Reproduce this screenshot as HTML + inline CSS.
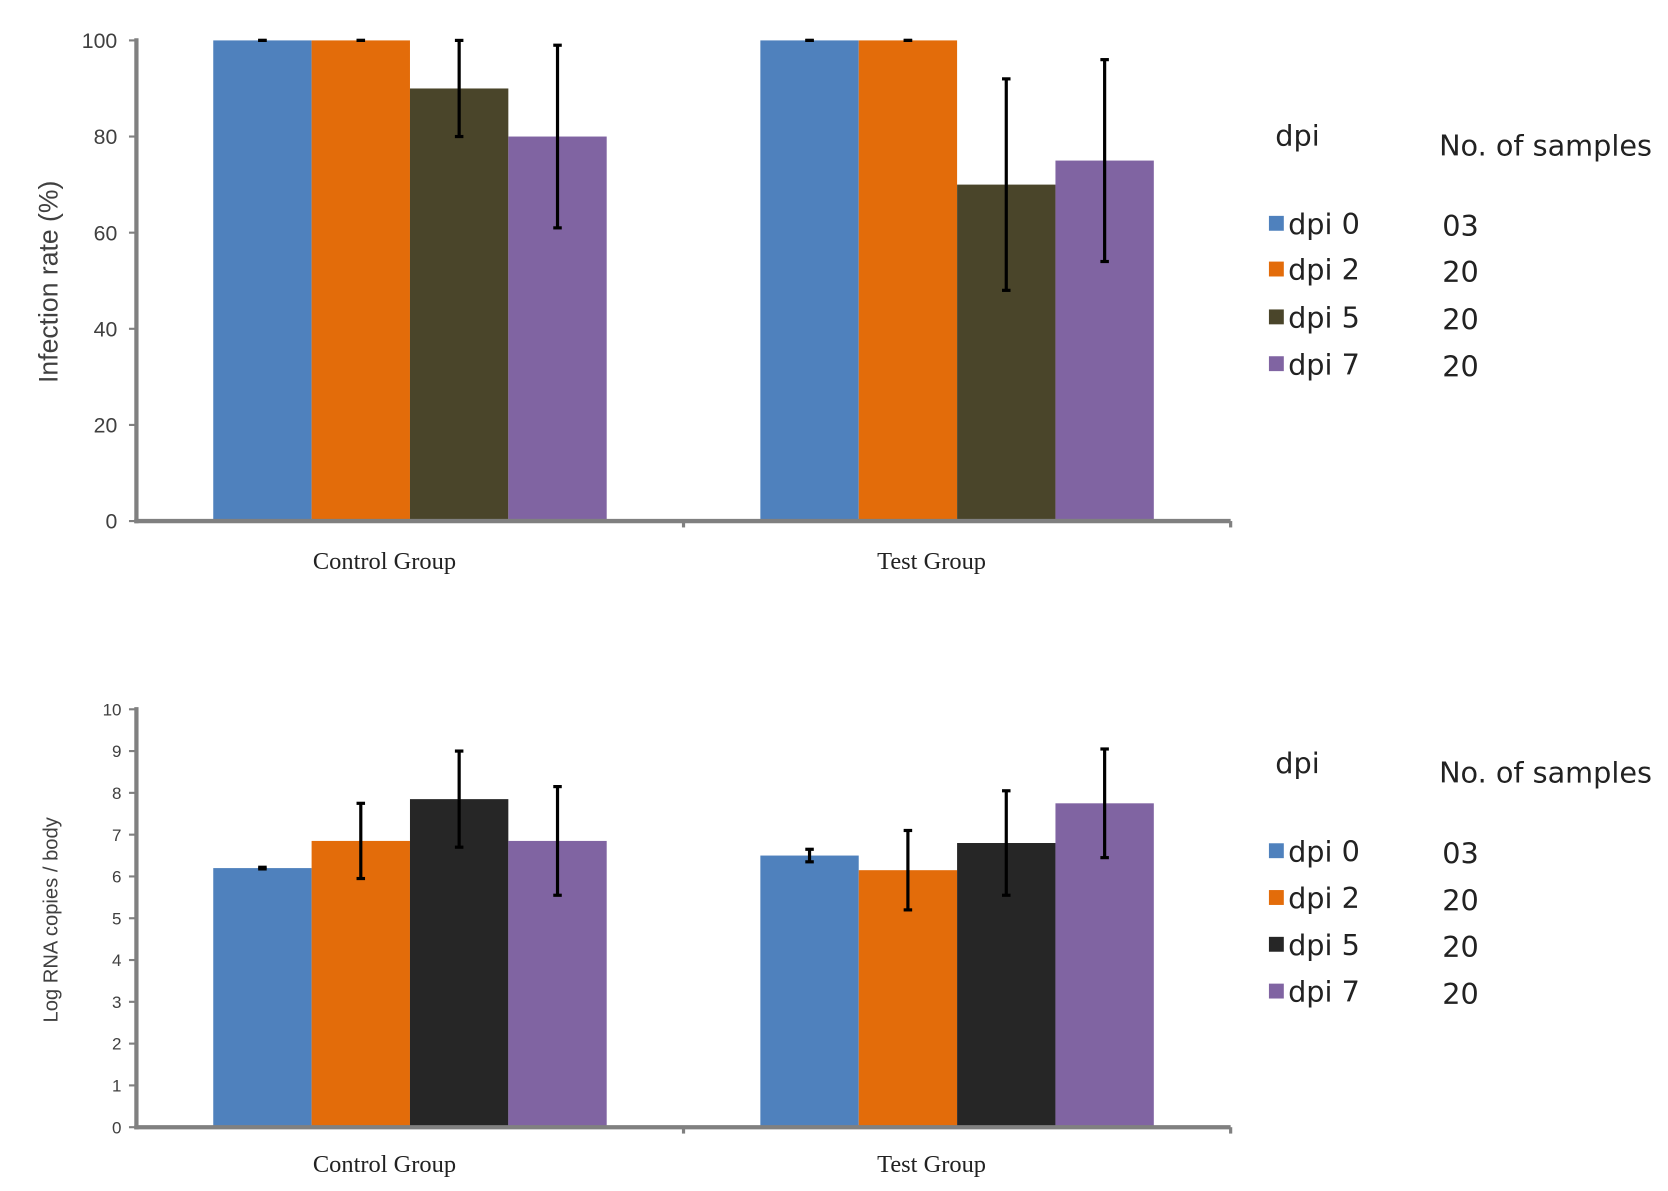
<!DOCTYPE html>
<html><head><meta charset="utf-8"><style>
html,body{margin:0;padding:0;background:#fff;}
svg{display:block;}
.tk{font-family:"Liberation Sans",sans-serif;fill:#404040;}
.cat{font-family:"Liberation Serif",serif;font-size:23px;fill:#222;}
.lg{font-family:"DejaVu Sans","Liberation Sans",sans-serif;fill:#222;}
</style></head><body>
<svg id="root" width="1668" height="1191" viewBox="0 0 1568 1120">
<g id="top"></g>
<g id="bot"></g>
</svg>
<script>
const categories = ["Control Group", "Test Group"];
const seriesNames = ["dpi 0", "dpi 2", "dpi 5", "dpi 7"];
const sampleCounts = ["03", "20", "20", "20"];
const topValues = [[100, 100, 90, 80], [100, 100, 70, 75]];
const topErrors = [[0, 0, 10, 19], [0, 0, 22, 21]];
const topTicks = [0, 20, 40, 60, 80, 100];
const botValues = [[6.2, 6.85, 7.85, 6.85], [6.5, 6.15, 6.8, 7.75]];
const botErrors = [[0.02, 0.9, 1.15, 1.3], [0.15, 0.95, 1.25, 1.3]];
const botTicks = [0, 1, 2, 3, 4, 5, 6, 7, 8, 9, 10];

const NS = "http://www.w3.org/2000/svg";
function mk(parent, tag, attrs, text){
  const e = document.createElementNS(NS, tag);
  for (const k in attrs) e.setAttribute(k, attrs[k]);
  if (text !== undefined) e.textContent = text;
  parent.appendChild(e);
  return e;
}

function drawChart(g, cfg){
  const {values, errors, ticks, max, y0, y1, colors, tickSize, ylabel, ylabelSize, ylabelY, catY, legendY, rowYs, tickX} = cfg;
  const x0 = 128, x1 = 1157;
  const yS = v => y0 - (v / max) * (y0 - y1);
  const groupW = (x1 - x0) / categories.length;
  const barW = 92.5;
  const xBar = (ci, si) => x0 + groupW * ci + groupW / 2 - 2 * barW + si * barW;
  values.forEach((vals, ci) => {
    vals.forEach((v, si) => {
      const r = mk(g, "rect", {x: xBar(ci, si), y: yS(v), width: barW, height: y0 - yS(v), fill: colors[si]});
      
      
    });
  });
  values.forEach((vals, ci) => {
    vals.forEach((v, si) => {
      const cx = xBar(ci, si) + barW / 2, e = errors[ci][si];
      const top = yS(Math.min(max, v + e)), bot = yS(v - e);
      const eg = mk(g, "g", {stroke: "#000", "stroke-width": 3});
      
      
      mk(eg, "line", {x1: cx, x2: cx, y1: top, y2: bot});
      mk(eg, "line", {x1: cx - 4, x2: cx + 4, y1: top, y2: top});
      mk(eg, "line", {x1: cx - 4, x2: cx + 4, y1: bot, y2: bot});
    });
  });
  const ax = mk(g, "g", {stroke: "#808080", "stroke-width": 4});
  
  
  mk(ax, "line", {x1: x0, x2: x0, y1: y1 - 2, y2: y0 + 2});
  mk(ax, "line", {x1: x0 - 2, x2: x1, y1: y0, y2: y0});
  ticks.forEach(t => { mk(ax, "line", {x1: x0 - 7, x2: x0, y1: yS(t), y2: yS(t), "stroke-width": 2}); });
  for (let i = 1; i <= categories.length; i++) mk(ax, "line", {x1: x0 + groupW * i, x2: x0 + groupW * i, y1: y0, y2: y0 + 6, "stroke-width": 3});
  ticks.forEach(t => {
    const tl = mk(g, "text", {x: tickX, y: yS(t) + tickSize * 0.36, "text-anchor": "end", "font-size": tickSize, class: "tk"}, t);
    
    
  });
  const yl = mk(g, "text", {x: 0, y: 0, "text-anchor": "middle", "font-size": ylabelSize, class: "tk", transform: `translate(54,${ylabelY}) rotate(-90)`}, ylabel);
  
  
  categories.forEach((c, ci) => {
    const cl = mk(g, "text", {x: x0 + groupW * ci + groupW / 2 - 24, y: catY, "text-anchor": "middle", class: "cat"}, c);
    
    
  });
  const lg = mk(g, "g", {});
  
  
  mk(lg, "text", {x: 1199, y: legendY, "font-size": 27, class: "lg"}, "dpi");
  mk(lg, "text", {x: 1353, y: legendY + 9, "font-size": 27, class: "lg"}, "No. of samples");
  seriesNames.forEach((s, si) => {
    const le = mk(lg, "g", {});
    
    
    mk(le, "rect", {x: 1193, y: rowYs[si] - 17, width: 14, height: 14, fill: colors[si]});
    mk(le, "text", {x: 1211, y: rowYs[si], "font-size": 27, class: "lg"}, s);
    mk(le, "text", {x: 1356, y: rowYs[si] + 2, "font-size": 27, class: "lg"}, sampleCounts[si]);
  });
}

drawChart(document.getElementById('top'), {
  values: topValues, errors: topErrors, ticks: topTicks, max: 100, y0: 490, y1: 38,
  colors: ["#4f81bd", "#e36c0a", "#4a452a", "#8064a2"], tickSize: 20, tickX: 110,
  ylabel: "Infection rate (%)", ylabelSize: 25, ylabelY: 265, catY: 535,
  legendY: 137, rowYs: [220, 263, 308, 352]
});
drawChart(document.getElementById('bot'), {
  values: botValues, errors: botErrors, ticks: botTicks, max: 10, y0: 1060, y1: 667,
  colors: ["#4f81bd", "#e36c0a", "#262626", "#8064a2"], tickSize: 16, tickX: 114,
  ylabel: "Log RNA copies / body", ylabelSize: 19, ylabelY: 865, catY: 1102,
  legendY: 727, rowYs: [810, 854, 898, 942]
});
</script>
</body></html>
